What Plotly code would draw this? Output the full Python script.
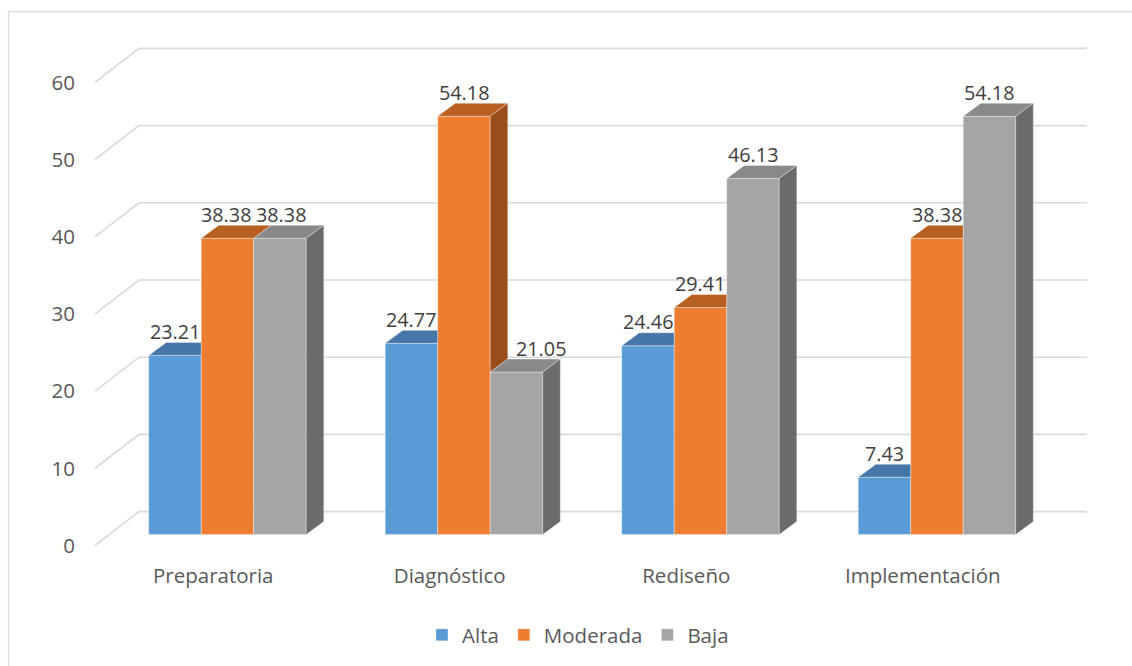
import plotly.graph_objects as go

# ---------------- data ----------------
categories = ["Preparatoria", "Diagnóstico", "Rediseño", "Implementación"]
series_names = ["Alta", "Moderada", "Baja"]
alta = [23.21, 24.77, 24.46, 7.43]
moderada = [38.38, 54.18, 29.41, 38.38]
baja = [38.38, 21.05, 46.13, 54.18]
y_ticks = [0, 10, 20, 30, 40, 50, 60]

values = [alta, moderada, baja]

# ---------------- style ----------------
FRONT = ["#5B9BD5", "#ED7D31", "#A5A5A5"]
TOP = ["#4677A8", "#B95F22", "#898989"]
SIDE = ["#3E6A96", "#9B4C1B", "#6B6B6B"]
EDGE = "rgba(255,255,255,0.35)"
GRID = "#D9D9D9"
TXT = "#595959"
LBL = "#404040"
FONT = "Open Sans"
FS = 20.5
FS_LBL = 19.8

W, H = 1132, 666
ML, MR, MT, MB = 95, 42, 36, 104
PW, PH = W - ML - MR, H - MT - MB
PX_X = 236.5                      # pixels per category
X0 = -0.5
X1 = X0 + PW / PX_X
Y0, Y1 = -2, 66
PX_Y = PH / (Y1 - Y0)


def ux(px):
    return px / PX_X


def uy(px):
    return px / PX_Y


BACK_DX, BACK_DY = ux(44), uy(34)     # depth of the back wall
BAR_W = ux(52.5)
BAR_SHIFT = ux(14.2)
BAR_BASE = uy(11)
BAR_DX, BAR_DY = ux(17.6), uy(13)     # depth of each bar
GRID_END = X0 + ux(1087 - ML)
LABEL_XSHIFT = {(1, 2): 25, (0, 1): -1, (0, 2): 1.5}


def xc(i, j):
    return i + BAR_SHIFT + (j - 1) * BAR_W


fig = go.Figure()

# front faces
for j, name in enumerate(series_names):
    fig.add_trace(go.Bar(
        x=[xc(i, j) for i in range(len(categories))],
        y=values[j],
        base=BAR_BASE,
        width=BAR_W,
        name=name,
        marker=dict(color=FRONT[j], line=dict(color=EDGE, width=1)),
        hoverinfo="skip",
    ))

# tops and sides (painter order left to right)
for i in range(len(categories)):
    for j in range(len(series_names)):
        h = values[j][i]
        xl = xc(i, j) - BAR_W / 2
        xr = xc(i, j) + BAR_W / 2
        yt = BAR_BASE + h
        nxt = values[j + 1][i] if j + 1 < len(series_names) else None
        # top face
        if nxt is not None and nxt > h:
            tx = [xl, xr, xr, xl + BAR_DX, xl]
            ty = [yt, yt, yt + BAR_DY, yt + BAR_DY, yt]
        else:
            tx = [xl, xr, xr + BAR_DX, xl + BAR_DX, xl]
            ty = [yt, yt, yt + BAR_DY, yt + BAR_DY, yt]
        fig.add_trace(go.Scatter(
            x=tx, y=ty, mode="lines", fill="toself", fillcolor=TOP[j],
            line=dict(color=EDGE, width=1), showlegend=False, hoverinfo="skip"))
        # side face
        if nxt is None:
            low = BAR_BASE
        elif nxt < h:
            low = BAR_BASE + nxt
        else:
            low = None
        if low is not None:
            sx = [xr, xr + BAR_DX, xr + BAR_DX, xr, xr]
            sy = [low, low + BAR_DY, yt + BAR_DY, yt, low]
            fig.add_trace(go.Scatter(
                x=sx, y=sy, mode="lines", fill="toself", fillcolor=SIDE[j],
                line=dict(color=EDGE, width=1), showlegend=False, hoverinfo="skip"))

# gridlines (side wall + back wall)
shapes = []
for v in y_ticks:
    path = (f"M {X0},{v} L {X0 + BACK_DX},{v + BACK_DY} "
            f"L {GRID_END},{v + BACK_DY}")
    shapes.append(dict(type="path", xref="x", yref="y", path=path,
                       line=dict(color=GRID, width=1.6), layer="below"))


# outer border
def px_to_paper_x(px):
    return (px - ML) / PW


def px_to_paper_y(py):
    return (H - MB - py) / PH


shapes.append(dict(type="rect", xref="paper", yref="paper",
                   x0=px_to_paper_x(8.5), x1=px_to_paper_x(1140),
                   y0=px_to_paper_y(672), y1=px_to_paper_y(11.5),
                   line=dict(color=GRID, width=1.2), layer="below"))

# data labels
annotations = []
for j in range(len(series_names)):
    for i in range(len(categories)):
        v = values[j][i]
        annotations.append(dict(
            x=xc(i, j), y=BAR_BASE + v, xref="x", yref="y",
            text=f"{v:.2f}", showarrow=False, yanchor="middle",
            yshift=24, xshift=LABEL_XSHIFT.get((i, j), 0),
            font=dict(family=FONT, size=FS_LBL, color=LBL)))

fig.update_layout(
    width=W, height=H,
    margin=dict(l=ML, r=MR, t=MT, b=MB),
    paper_bgcolor="white", plot_bgcolor="white",
    barmode="overlay",
    shapes=shapes, annotations=annotations,
    font=dict(family=FONT, size=FS, color=TXT),
    legend=dict(orientation="h", x=px_to_paper_x(578), xanchor="center",
                y=px_to_paper_y(635), yanchor="middle",
                font=dict(family=FONT, size=FS, color=TXT),
                itemwidth=30, traceorder="normal"),
    xaxis=dict(range=[X0, X1], tickvals=list(range(len(categories))),
               ticktext=categories, showgrid=False, zeroline=False,
               showline=False, ticks="", fixedrange=True,
               tickfont=dict(family=FONT, size=FS, color=TXT)),
    yaxis=dict(range=[Y0, Y1], tickvals=y_ticks, showgrid=False,
               zeroline=False, showline=False, ticks="",
               ticklabelstandoff=19, fixedrange=True,
               tickfont=dict(family=FONT, size=FS, color=TXT)),
)

fig.write_html("out.html")
